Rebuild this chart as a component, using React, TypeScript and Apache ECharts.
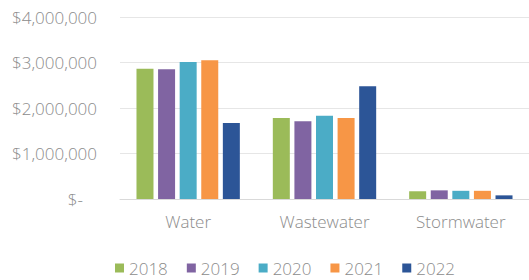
import React, { useEffect, useRef } from "react";
import * as echarts from "echarts";

const categories = ["Water", "Wastewater", "Stormwater"];
const years = ["2018", "2019", "2020", "2021", "2022"];
const values2018 = [2860000, 1780000, 170000];
const values2019 = [2850000, 1710000, 190000];
const values2020 = [3010000, 1830000, 180000];
const values2021 = [3050000, 1780000, 180000];
const values2022 = [1670000, 2480000, 80000];
const seriesValues = [values2018, values2019, values2020, values2021, values2022];
const colors = ["#9bbb59", "#8064a2", "#4bacc6", "#f79646", "#2c5597"];

const fontFamily = "'Open Sans', sans-serif";
const fontWeight = 300;
const textColor = "#8c8c8c";

function fmt(v: number): string {
  if (v === 0) return "{z|$-}";
  return "$" + v.toLocaleString("en-US");
}

export default function App() {
  const ref = useRef<HTMLDivElement>(null);
  useEffect(() => {
    if (!ref.current) return;
    const chart = echarts.init(ref.current, undefined, { renderer: "svg" });
    chart.setOption({
      animation: false,
      grid: { left: 120, right: -18.5, top: 17, bottom: 81, containLabel: false },
      legend: {
        data: years,
        left: 115,
        top: 258,
        padding: 0,
        icon: "rect",
        itemWidth: 9,
        itemHeight: 9,
        itemGap: 19,
        textStyle: { fontFamily, fontWeight, fontSize: 17, color: textColor, lineHeight: 20 },
      },
      xAxis: {
        type: "category",
        data: categories,
        axisTick: { show: false },
        axisLine: { lineStyle: { color: "#d9d9d9" } },
        axisLabel: { fontFamily, fontWeight, fontSize: 17, color: textColor, margin: 14 },
      },
      yAxis: {
        type: "value",
        min: 0,
        max: 4000000,
        interval: 1000000,
        axisLine: { show: false },
        axisTick: { show: false },
        splitLine: { lineStyle: { color: "#e6e6e6" } },
        axisLabel: {
          fontFamily,
          fontWeight,
          fontSize: 17,
          color: textColor,
          margin: 23,
          formatter: fmt,
          rich: { z: { fontFamily, fontWeight, fontSize: 17, color: textColor, padding: [0, 14, 0, 0] } },
        },
      },
      series: years.map((y, i) => ({
        name: y,
        type: "bar",
        data: seriesValues[i],
        barWidth: 17,
        barGap: "27%",
        itemStyle: { color: colors[i] },
      })),
    });
    return () => chart.dispose();
  }, []);
  return (
    <div
      ref={ref}
      style={{ position: "fixed", left: 0, top: 0, width: 529, height: 280, background: "#fff" }}
    />
  );
}
